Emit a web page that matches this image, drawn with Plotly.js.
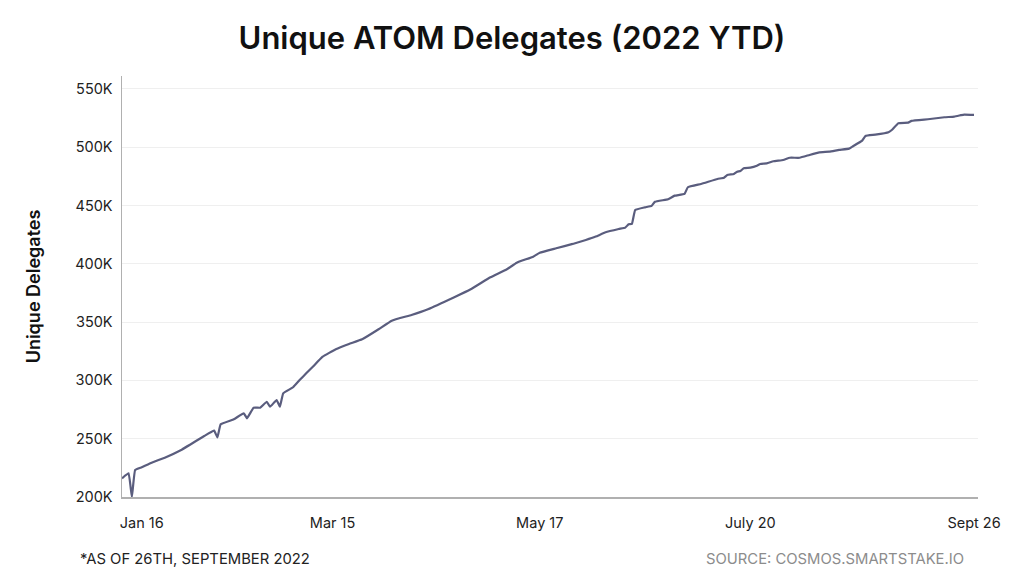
<!DOCTYPE html>
<html>
<head>
<meta charset="utf-8">
<script src="https://cdn.plot.ly/plotly-3.0.1.min.js"></script>
<style>
html,body{margin:0;padding:0;background:#fff;}
#chart{width:1024px;height:583px;}
</style>
</head>
<body>
<div id="chart"></div>
<script>
const dates = [
  '2022-01-10','2022-01-12','2022-01-13','2022-01-14','2022-01-16','2022-01-19','2022-01-23','2022-01-28',
  '2022-02-04','2022-02-07','2022-02-08','2022-02-09','2022-02-13','2022-02-16','2022-02-17','2022-02-19',
  '2022-02-21','2022-02-23','2022-02-24','2022-02-26','2022-02-27','2022-02-28','2022-03-03','2022-03-05',
  '2022-03-07','2022-03-09','2022-03-12','2022-03-16','2022-03-20','2022-03-24','2022-03-29','2022-04-02',
  '2022-04-08','2022-04-13','2022-04-21','2022-04-26','2022-05-02','2022-05-07','2022-05-10','2022-05-15',
  '2022-05-17','2022-05-22','2022-05-27','2022-05-31','2022-06-03','2022-06-06','2022-06-10','2022-06-12',
  '2022-06-13','2022-06-14','2022-06-15','2022-06-18','2022-06-20','2022-06-21','2022-06-25','2022-06-27',
  '2022-06-30','2022-07-01','2022-07-05','2022-07-10','2022-07-12','2022-07-13','2022-07-15','2022-07-16',
  '2022-07-17','2022-07-18','2022-07-20','2022-07-22','2022-07-23','2022-07-25','2022-07-27','2022-07-30',
  '2022-08-01','2022-08-04','2022-08-07','2022-08-10','2022-08-13','2022-08-16','2022-08-19','2022-08-20',
  '2022-08-23','2022-08-24','2022-08-27','2022-08-31','2022-09-01','2022-09-03','2022-09-06','2022-09-07',
  '2022-09-12','2022-09-17','2022-09-20','2022-09-22','2022-09-23','2022-09-26'
];
const delegates = [
  216000,220300,200000,223200,225500,229400,233700,240300,
  252300,256900,251200,262300,266600,271800,267500,276600,
  276600,281700,277400,283200,277400,288900,294100,300300,
  306100,311700,320300,326700,331200,335200,343800,351200,
  356100,361000,371300,378100,388400,395300,400900,406100,
  409500,413300,417000,420400,423300,427000,429800,431000,
  433900,434100,446100,448400,449600,453200,455300,458400,
  459900,465600,468400,472700,473800,476100,477000,478900,
  479500,481900,482400,484100,485600,486100,487900,489000,
  490900,490900,493300,495500,496100,497600,498700,500400,
  505600,509600,510700,512800,514700,520500,521000,522500,
  523900,525600,526200,527400,527900,527700
];
const xTickVals = ['2022-01-16','2022-03-15','2022-05-17','2022-07-20','2022-09-26'];
const xTickText = ['Jan 16','Mar 15','May 17','July 20','Sept 26'];
const yTickVals = [200000,250000,300000,350000,400000,450000,500000,550000];
const yTickText = ['200K','250K','300K','350K','400K','450K','500K','550K'];

const FONT = 'Inter, "Open Sans", sans-serif';

const trace = {
  x: dates,
  y: delegates,
  type: 'scatter',
  mode: 'lines',
  line: {color: '#5a5d7e', width: 2.2, shape: 'spline', smoothing: 0.3},
  hoverinfo: 'x+y'
};

const layout = {
  width: 1024,
  height: 583,
  paper_bgcolor: '#ffffff',
  plot_bgcolor: '#ffffff',
  margin: {l: 122, r: 46, t: 76, b: 86},
  showlegend: false,
  font: {family: FONT, color: '#222222', size: 14},
  title: {
    text: 'Unique ATOM Delegates (2022 YTD)',
    x: 0.5, xanchor: 'center', xref: 'container',
    y: 0.935, yanchor: 'middle', yref: 'container',
    font: {family: FONT, size: 31, color: '#111111', weight: 600}
  },
  xaxis: {
    type: 'date',
    range: ['2022-01-10', '2022-09-27 05:00'],
    tickvals: xTickVals,
    ticktext: xTickText,
    showgrid: false,
    zeroline: false,
    showline: true,
    linecolor: '#b0b0b0',
    linewidth: 1.5,
    ticks: '',
    ticklabelstandoff: 12,
    tickfont: {family: FONT, size: 14.5, color: '#222222'},
    fixedrange: true
  },
  yaxis: {
    range: [200000, 561000],
    tickvals: yTickVals,
    ticktext: yTickText,
    showgrid: true,
    gridcolor: '#efefef',
    gridwidth: 1,
    zeroline: false,
    showline: true,
    linecolor: '#b0b0b0',
    linewidth: 1.5,
    ticks: '',
    ticklabelstandoff: 5,
    tickfont: {family: FONT, size: 14.5, color: '#222222'},
    title: {
      text: 'Unique Delegates',
      standoff: 30,
      font: {family: FONT, size: 18, color: '#111111', weight: 600}
    },
    fixedrange: true
  },
  annotations: [
    {
      text: '*AS OF 26TH, SEPTEMBER 2022',
      xref: 'paper', yref: 'paper',
      x: -0.051, y: -0.148, xanchor: 'left', yanchor: 'middle',
      showarrow: false,
      font: {family: FONT, size: 14.8, color: '#222222'}
    },
    {
      text: 'SOURCE: COSMOS.SMARTSTAKE.IO',
      xref: 'paper', yref: 'paper',
      x: 0.986, y: -0.148, xanchor: 'right', yanchor: 'middle',
      showarrow: false,
      font: {family: FONT, size: 14.8, color: '#8c8c8c'}
    }
  ]
};

Plotly.newPlot('chart', [trace], layout, {displayModeBar: false, staticPlot: true});
</script>
</body>
</html>
